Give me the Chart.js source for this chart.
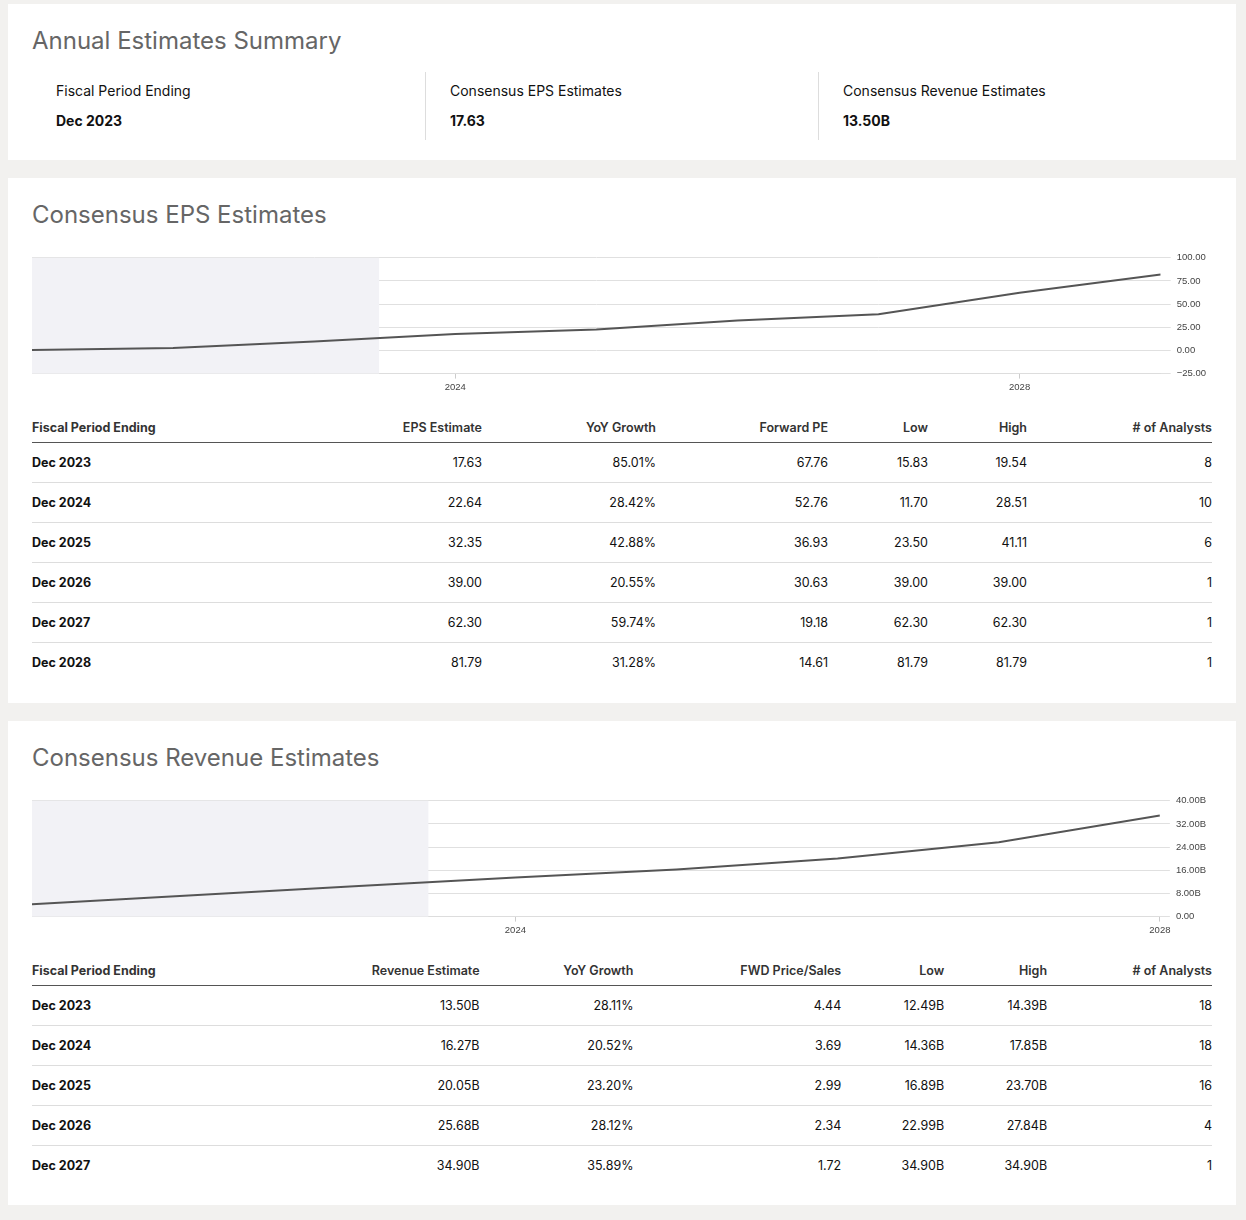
<!DOCTYPE html>
<html><head><meta charset="utf-8">
<script src="https://cdn.jsdelivr.net/npm/chart.js@4"></script>
<style>
body{margin:0;background:#f2f1ef;font-family:Inter,"Noto Sans",sans-serif;color:#111;width:1246px}
.card{background:#fff;position:absolute;left:8px;width:1228px}
h2{font-weight:400;font-size:24px;color:#666;margin:0;position:absolute;left:24px}
.sum{position:absolute;top:68px;height:68px;width:380px;border-left:1px solid #ddd}
.sum .l{font-size:14px;position:absolute;left:24px;top:10px;white-space:nowrap}
.sum .v{font-size:14px;font-weight:700;position:absolute;left:24px;top:40px;white-space:nowrap}
table{position:absolute;left:24px;width:1180px;border-collapse:collapse;font-size:12.5px}
th{font-weight:600;color:#333;text-align:right;height:22px;border-bottom:1px solid #555;vertical-align:top;padding:0}
td{text-align:right;height:39px;border-bottom:1px solid #ddd;padding:0}
tr:last-child td{border-bottom:none}
th:first-child,td:first-child{text-align:left;font-weight:700}
.cw{position:absolute;left:24px;width:1180px;height:150px}
</style></head><body>
<div class="card" style="top:4px;height:156px">
<h2 style="top:22px">Annual Estimates Summary</h2>
<div class="sum" style="left:24px;border:none"><div class="l">Fiscal Period Ending</div><div class="v">Dec 2023</div></div>
<div class="sum" style="left:417px"><div class="l">Consensus EPS Estimates</div><div class="v">17.63</div></div>
<div class="sum" style="left:810px"><div class="l">Consensus Revenue Estimates</div><div class="v">13.50B</div></div>
</div>
<div class="card" style="top:178px;height:525px">
<h2 style="top:22px">Consensus EPS Estimates</h2>
<div class="cw" style="top:68px"><canvas id="c1"></canvas></div>
<table id="t1" style="top:242px"></table>
</div>
<div class="card" style="top:721px;height:484px">
<h2 style="top:22px">Consensus Revenue Estimates</h2>
<div class="cw" style="top:68px"><canvas id="c2"></canvas></div>
<table id="t2" style="top:242px"></table>
</div>
<script>
const epsYears=[2021,2022,2023,2024,2025,2026,2027,2028,2029];
const epsValues=[0.5,2.5,9.5,17.63,22.64,32.35,39.00,62.30,81.79];
const revYears=[2021,2022,2023,2024,2025,2026,2027,2028];
const revValues=[4.3,7.4,10.5,13.50,16.27,20.05,25.68,34.90];
const epsHead=["Fiscal Period Ending","EPS Estimate","YoY Growth","Forward PE","Low","High","# of Analysts"];
const epsRows=[["Dec 2023","17.63","85.01%","67.76","15.83","19.54","8"],["Dec 2024","22.64","28.42%","52.76","11.70","28.51","10"],["Dec 2025","32.35","42.88%","36.93","23.50","41.11","6"],["Dec 2026","39.00","20.55%","30.63","39.00","39.00","1"],["Dec 2027","62.30","59.74%","19.18","62.30","62.30","1"],["Dec 2028","81.79","31.28%","14.61","81.79","81.79","1"]];
const revHead=["Fiscal Period Ending","Revenue Estimate","YoY Growth","FWD Price/Sales","Low","High","# of Analysts"];
const revRows=[["Dec 2023","13.50B","28.11%","4.44","12.49B","14.39B","18"],["Dec 2024","16.27B","20.52%","3.69","14.36B","17.85B","18"],["Dec 2025","20.05B","23.20%","2.99","16.89B","23.70B","16"],["Dec 2026","25.68B","28.12%","2.34","22.99B","27.84B","4"],["Dec 2027","34.90B","35.89%","1.72","34.90B","34.90B","1"]];
function table(id,head,rows,widths){
  let h='<tr>'+head.map((c,i)=>`<th style="width:${widths[i]}px">${c}</th>`).join('')+'</tr>';
  rows.forEach(r=>h+='<tr>'+r.map(c=>`<td>${c}</td>`).join('')+'</tr>');
  document.getElementById(id).innerHTML=h;
}
table('t1',epsHead,epsRows,[130,320,174,172,100,99,185]);
table('t2',revHead,revRows,[130,318,154,208,103,103,165]);
const shade={id:'shade',beforeDatasetsDraw(c,a,o){const x=c.scales.x,y=c.scales.y,ctx=c.ctx;ctx.save();ctx.fillStyle='#f2f2f6';const r=x.getPixelForValue(o.to);ctx.fillRect(x.left,y.top,r-x.left,y.bottom-y.top);ctx.restore();}};
function mk(id,xs,vals,xmax,ymin,ymax,step,fmt,to){
  new Chart(document.getElementById(id),{type:'line',
   data:{datasets:[{data:xs.map((x,i)=>({x,y:vals[i]})),borderColor:'#555',borderWidth:2,pointRadius:0,tension:0}]},
   options:{responsive:false,animation:false,layout:{padding:{top:4}},
    plugins:{legend:{display:false},tooltip:{enabled:false},shade:{to}},
    scales:{x:{type:'linear',min:2021,max:xmax,afterBuildTicks:s=>{s.ticks=[{value:2024},{value:2028}]},
       grid:{drawOnChartArea:false,tickLength:5,color:'#ccc'},border:{color:'#ddd'},
       ticks:{font:{size:9.5},color:'#444',callback:v=>String(v),maxRotation:0}},
     y:{position:'right',min:ymin,max:ymax,ticks:{stepSize:step,font:{size:9.5},color:'#444',callback:fmt,padding:6},
       grid:{color:'#e0e0e0',tickLength:10},border:{display:false}}}},
   plugins:[shade]});
}
document.getElementById('c1').width=1180;document.getElementById('c1').height=150;
document.getElementById('c2').width=1180;document.getElementById('c2').height=150;
mk('c1',epsYears,epsValues,2029,-25,100,25,v=>v<0?'\u221225.00':v.toFixed(2),2023.46);
mk('c2',revYears,revValues,2028,0,40,8,v=>v===0?'0.00':v.toFixed(2)+'B',2023.46);
</script></body></html>
